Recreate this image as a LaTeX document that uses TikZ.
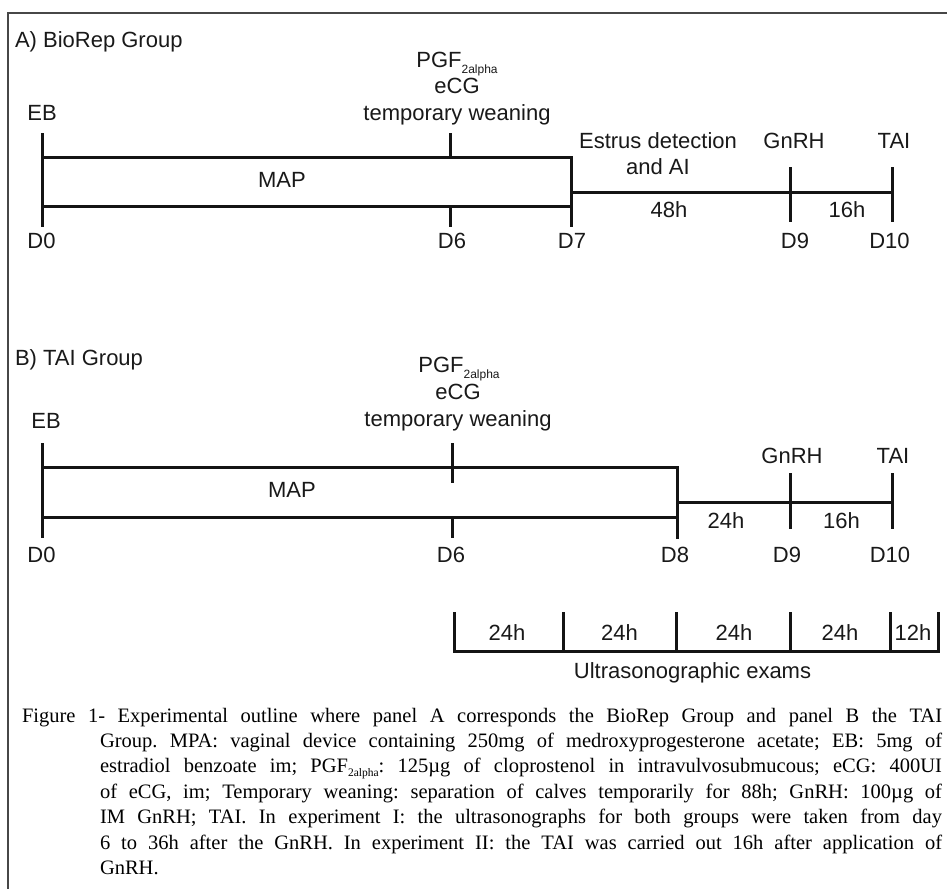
\documentclass[tikz,border=0pt]{standalone}
\usepackage{fontspec}
\setmainfont{Liberation Sans}
\newfontfamily\capserif{Liberation Serif}
\newcommand\myPGF{PGF\raisebox{-6pt}{\fontsize{12}{12}\selectfont 2alpha}}
\newcommand\capPGF{PGF\raisebox{-4pt}{\fontsize{11.5}{11.5}\selectfont 2alpha}}
\frenchspacing
\begin{document}
\begin{tikzpicture}[x=1pt,y=-1pt,
  tl/.style={line width=3pt, line join=miter, draw=black!92},
  frm/.style={line width=2pt, draw=black!72},
  lb/.style={anchor=base, inner sep=0pt, outer sep=0pt, text=black!90, font=\fontsize{22}{26}\selectfont},
  cp/.style={anchor=base west, inner sep=0pt, outer sep=0pt, text=black, font=\capserif\fontsize{20.5}{25}\selectfont\frenchspacing}]
\useasboundingbox (0,0) rectangle (947,889);
\fill[white] (0,0) rectangle (947,889);

% frame
\coordinate (fTL) at (8,13); \coordinate (fTR) at (947,13); \coordinate (fBL) at (8,889);
\draw[frm] (fTR) -- (fTL) -- (fBL);

% ---------------- Panel A ----------------
\node[lb, anchor=base west] (tA) at (15,47) {A) BioRep Group};
\coordinate (a0t) at (42,133); \coordinate (a0b) at (42,227);
\coordinate (aboxTL) at (42,157); \coordinate (aboxTR) at (571,157);
\coordinate (aboxBL) at (42,206); \coordinate (aboxBR) at (571,206);
\coordinate (a7b) at (571,227);
\coordinate (a6t) at (450,133); \coordinate (a6m) at (450,157);
\coordinate (a6n) at (450,206); \coordinate (a6b) at (450,227);
\coordinate (aL) at (571,192); \coordinate (aR) at (892,192);
\coordinate (a9t) at (790,167); \coordinate (a9b) at (790,222);
\coordinate (a10t) at (892,167); \coordinate (a10b) at (892,222);
\draw[tl] (a0t) -- (a0b);
\draw[tl] (aboxTL) -- (aboxTR) -- (a7b);
\draw[tl] (aboxBL) -- (aboxBR);
\draw[tl] (a6t) -- (a6m);
\draw[tl] (a6n) -- (a6b);
\draw[tl] (aL) -- (aR);
\draw[tl] (a9t) -- (a9b);
\draw[tl] (a10t) -- (a10b);

\node[lb] (aEB) at (42,120) {EB};
\node[lb] (aPGF) at (457,67) {\myPGF};
\node[lb] (aeCG) at (457,93.5) {eCG};
\node[lb] (atw) at (457,120) {temporary weaning};
\node[lb] (aED) at (658,148) {Estrus detection};
\node[lb] (aAI) at (658,174) {and AI};
\node[lb] (aGn) at (794,148) {GnRH};
\node[lb] (aTAI) at (894,148) {TAI};
\node[lb] (aMAP) at (282,187) {MAP};
\node[lb] (a48) at (669,217) {48h};
\node[lb] (a16) at (847,217) {16h};
\node[lb] (aD0) at (41.5,248) {D0};
\node[lb] (aD6) at (452,248) {D6};
\node[lb] (aD7) at (572,248) {D7};
\node[lb] (aD9) at (795,248) {D9};
\node[lb] (aD10) at (889.5,248) {D10};

% ---------------- Panel B ----------------
\node[lb, anchor=base west] (tB) at (15,365) {B) TAI Group};
\coordinate (b0t) at (42,443); \coordinate (b0b) at (42,538);
\coordinate (bboxTL) at (42,467); \coordinate (bboxTR) at (677.5,467);
\coordinate (bboxBL) at (42,517); \coordinate (bboxBR) at (677.5,517);
\coordinate (b8b) at (677.5,539);
\coordinate (b6t) at (452,443); \coordinate (b6m) at (452,483);
\coordinate (b6n) at (452,517); \coordinate (b6b) at (452,538);
\coordinate (bL) at (677.5,502); \coordinate (bR) at (892,502);
\coordinate (b9t) at (790,473); \coordinate (b9b) at (790,529);
\coordinate (b10t) at (892,473); \coordinate (b10b) at (892,529);
\draw[tl] (b0t) -- (b0b);
\draw[tl] (bboxTL) -- (bboxTR) -- (b8b);
\draw[tl] (bboxBL) -- (bboxBR);
\draw[tl] (b6t) -- (b6m);
\draw[tl] (b6n) -- (b6b);
\draw[tl] (bL) -- (bR);
\draw[tl] (b9t) -- (b9b);
\draw[tl] (b10t) -- (b10b);

\node[lb] (bEB) at (46,428) {EB};
\node[lb] (bPGF) at (459,372) {\myPGF};
\node[lb] (beCG) at (458,399) {eCG};
\node[lb] (btw) at (458,426) {temporary weaning};
\node[lb] (bGn) at (792,463) {GnRH};
\node[lb] (bTAI) at (893,463) {TAI};
\node[lb] (bMAP) at (292,497) {MAP};
\node[lb] (b24) at (726,528) {24h};
\node[lb] (b16) at (841.5,528) {16h};
\node[lb] (bD0) at (41.5,562) {D0};
\node[lb] (bD6) at (451,562) {D6};
\node[lb] (bD8) at (675,562) {D8};
\node[lb] (bD9) at (787,562) {D9};
\node[lb] (bD10) at (890,562) {D10};

% ---------------- Ultrasonographic exams ----------------
\coordinate (u1t) at (454,612); \coordinate (u1b) at (454,651);
\coordinate (u2t) at (563,612); \coordinate (u2b) at (563,651);
\coordinate (u3t) at (676,612); \coordinate (u3b) at (676,651);
\coordinate (u4t) at (790,612); \coordinate (u4b) at (790,651);
\coordinate (u5t) at (890,612); \coordinate (u5b) at (890,651);
\coordinate (u6t) at (938,612); \coordinate (u6b) at (938,651);
\draw[tl] (u1t) -- (u1b) -- (u6b) -- (u6t);
\draw[tl] (u2t) -- (u2b);
\draw[tl] (u3t) -- (u3b);
\draw[tl] (u4t) -- (u4b);
\draw[tl] (u5t) -- (u5b);
\node[lb] (uh1) at (507,640) {24h};
\node[lb] (uh2) at (619.5,640) {24h};
\node[lb] (uh3) at (734,640) {24h};
\node[lb] (uh4) at (840,640) {24h};
\node[lb] (uh5) at (913,640) {12h};
\node[lb] (ulab) at (692.5,678) {Ultrasonographic exams};

% ---------------- Caption ----------------
\node[cp] (c1) at (22,722) {\makebox[920pt][s]{Figure 1- Experimental outline where panel A corresponds the BioRep Group and panel B the TAI}};
\node[cp] (c2) at (100,747.4) {\makebox[842pt][s]{Group. MPA: vaginal device containing 250mg of medroxyprogesterone acetate; EB: 5mg of}};
\node[cp] (c3) at (100,772.8) {\makebox[842pt][s]{estradiol benzoate im; \capPGF: 125µg of cloprostenol in intravulvosubmucous; eCG: 400UI}};
\node[cp] (c4) at (100,798.2) {\makebox[842pt][s]{of eCG, im; Temporary weaning: separation of calves temporarily for 88h; GnRH: 100µg of}};
\node[cp] (c5) at (100,823.6) {\makebox[842pt][s]{IM GnRH; TAI. In experiment I: the ultrasonographs for both groups were taken from day}};
\node[cp] (c6) at (100,849) {\makebox[842pt][s]{6 to 36h after the GnRH. In experiment II: the TAI was carried out 16h after application of}};
\node[cp] (c7) at (100,874.4) {GnRH.};
\end{tikzpicture}
\end{document}
